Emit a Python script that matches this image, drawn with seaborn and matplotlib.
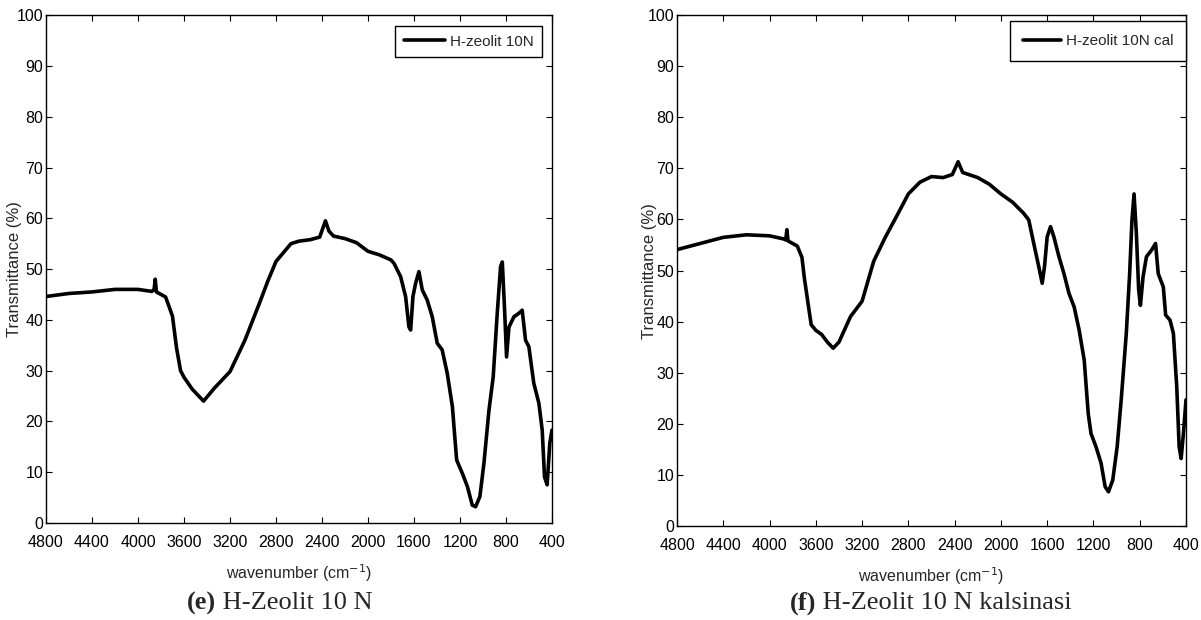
import matplotlib
matplotlib.use("Agg")
import matplotlib.pyplot as plt
import pandas as pd
import seaborn as sns

# spektrum (e) H-zeolit 10N
wn_e = [4800, 4600, 4400, 4200, 4000, 3880, 3860, 3850, 3840, 3760, 3720, 3700,
        3665, 3630, 3600, 3530, 3430, 3330, 3200, 3070, 2935, 2870, 2800, 2670,
        2600, 2500, 2420, 2370, 2340, 2300, 2200, 2100, 2000, 1900, 1800, 1773,
        1716, 1673, 1644, 1629, 1609, 1586, 1557, 1528, 1485, 1441, 1398, 1355,
        1311, 1266, 1229, 1180, 1136, 1093, 1064, 1027, 992, 948, 911, 876,
        847, 832, 812, 795, 774, 731, 688, 659, 630, 601, 558, 514,
        485, 465, 442, 419, 400]
tr_e = [44.6, 45.2, 45.5, 46.0, 46.0, 45.6, 46.0, 48.0, 45.5, 44.5, 42.0, 40.7,
        34.5, 30.0, 28.7, 26.4, 24.0, 26.7, 29.8, 36.0, 43.8, 47.7, 51.5, 55.0,
        55.5, 55.8, 56.3, 59.5, 57.5, 56.5, 56.0, 55.2, 53.5, 52.8, 51.8, 51.1,
        48.5, 44.6, 38.6, 38.0, 44.6, 47.2, 49.5, 45.9, 43.9, 40.6, 35.4, 34.1,
        29.5, 22.9, 12.4, 9.8, 7.2, 3.5, 3.2, 5.2, 11.7, 22.2, 28.8, 41.3,
        50.5, 51.4, 41.9, 32.7, 38.6, 40.6, 41.3, 41.9, 36.0, 34.7, 27.5, 23.6,
        18.3, 9.1, 7.5, 15.7, 18.3]

# spektrum (f) H-zeolit 10N kalsinasi
wn_f = [4800, 4600, 4400, 4200, 4000, 3880, 3860, 3850, 3840, 3760, 3720, 3700,
        3670, 3640, 3600, 3550, 3500, 3450, 3400, 3300, 3200, 3100, 3000, 2900,
        2800, 2700, 2600, 2500, 2420, 2370, 2330, 2200, 2100, 2000, 1900, 1803,
        1759, 1716, 1673, 1643, 1623, 1600, 1571, 1542, 1498, 1455, 1411, 1367,
        1324, 1280, 1245, 1221, 1178, 1134, 1099, 1070, 1033, 995, 960, 916,
        887, 867, 849, 829, 809, 794, 771, 742, 698, 663, 640, 596,
        576, 538, 509, 480, 459, 442, 422, 400]
tr_f = [54.1, 55.3, 56.5, 57.0, 56.8, 56.2, 56.0, 58.0, 55.8, 54.8, 52.6, 48.7,
        44.0, 39.4, 38.3, 37.5, 36.0, 34.8, 36.0, 41.0, 44.0, 51.8, 56.5, 60.7,
        65.0, 67.3, 68.4, 68.2, 68.8, 71.3, 69.2, 68.2, 66.9, 65.0, 63.4, 61.2,
        59.9, 55.3, 50.8, 47.5, 50.8, 56.6, 58.6, 56.6, 52.7, 49.4, 45.5, 42.9,
        38.4, 32.5, 22.0, 18.1, 15.5, 12.3, 7.7, 6.7, 9.0, 15.5, 24.7, 37.7,
        49.4, 59.9, 65.0, 57.3, 46.2, 43.2, 48.8, 52.7, 54.0, 55.3, 49.4, 46.8,
        41.3, 40.3, 37.7, 27.3, 15.5, 13.2, 18.1, 24.7]

labels = ["H-zeolit 10N", "H-zeolit 10N cal"]
captions = [("(e)", " H-Zeolit 10 N"), ("(f)", " H-Zeolit 10 N kalsinasi")]

sns.set_style("ticks")
plt.rcParams["font.family"] = ["Liberation Sans", "DejaVu Sans"]

fig = plt.figure(figsize=(12.01, 6.2), dpi=100)
ax1 = fig.add_axes([0.0383, 0.1565, 0.4213, 0.819])
ax2 = fig.add_axes([0.5637, 0.1516, 0.4238, 0.824])

data = [(wn_e, tr_e), (wn_f, tr_f)]
for ax, (wn, tr), lab in zip([ax1, ax2], data, labels):
    df = pd.DataFrame({"wavenumber": wn, "T": tr})
    sns.lineplot(data=df, x="wavenumber", y="T", ax=ax, color="black",
                 linewidth=2.6, label=lab, sort=False)
    ax.set_xlim(4800, 400)
    ax.set_ylim(0, 100)
    ax.set_xticks(range(4800, 399, -400))
    ax.set_yticks(range(0, 101, 10))
    ax.tick_params(direction="in", length=4, width=0.8, top=True, right=True,
                   labelsize=11.5, colors="black")
    ax.tick_params(axis="x", pad=8.5)
    ax.tick_params(axis="y", pad=2)
    for s in ax.spines.values():
        s.set_visible(True)
        s.set_linewidth(1.0)
        s.set_color("black")
    ax.set_xlabel("wavenumber (cm$^{-1}$)", fontsize=11.5)
    ax.set_ylabel("Transmittance (%)", fontsize=12)
    ax.xaxis.set_label_coords(0.5, -0.077)

ax1.yaxis.set_label_coords(-0.047, 0.5)
ax2.yaxis.set_label_coords(-0.040, 0.5)

leg1 = ax1.legend(loc="upper right", bbox_to_anchor=(0.98, 0.978), borderaxespad=0,
                  fancybox=False, edgecolor="black", framealpha=1, fontsize=11,
                  handlelength=2.7, handletextpad=0.3, borderpad=0.55)
leg2 = ax2.legend(loc="upper right", bbox_to_anchor=(1.0, 0.988), borderaxespad=0,
                  fancybox=False, edgecolor="black", framealpha=1, fontsize=11,
                  handlelength=2.5, handletextpad=0.3, borderpad=0.85)
for leg in (leg1, leg2):
    leg.get_frame().set_linewidth(1.0)


# keterangan di bawah grafik: bagian "(e)" tebal, sisanya biasa
def caption(xc, tag, name):
    tb = fig.text(0, 0, tag, fontsize=19, fontweight="bold", family="Liberation Serif")
    tn = fig.text(0, 0, name, fontsize=19, family="Liberation Serif")
    r = fig.canvas.get_renderer()
    wb = tb.get_window_extent(r).width
    wn_ = tn.get_window_extent(r).width
    x0 = xc * fig.bbox.width - (wb + wn_) / 2
    tb.set_position((x0 / fig.bbox.width, 0.017))
    tn.set_position(((x0 + wb) / fig.bbox.width, 0.017))


caption(0.233, *captions[0])
caption(0.775, *captions[1])

fig.savefig("out.png", dpi=100)
